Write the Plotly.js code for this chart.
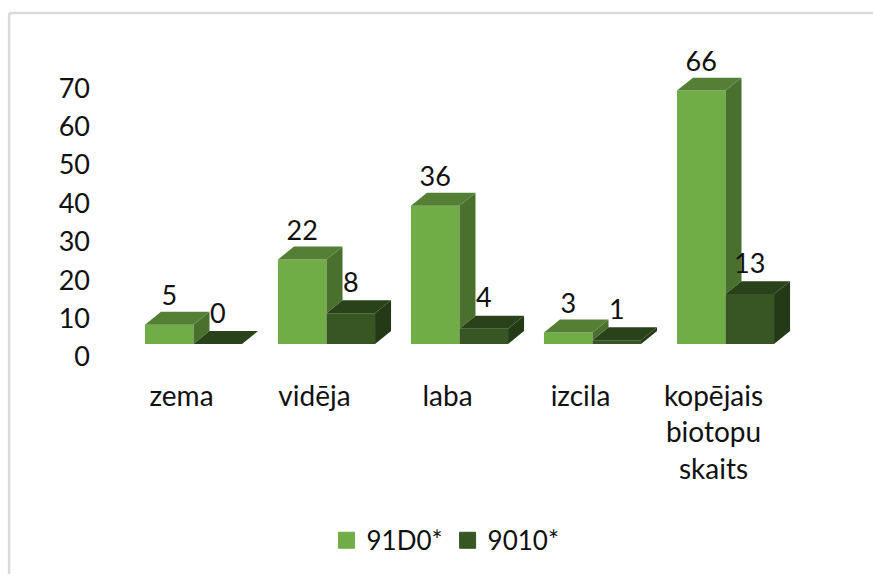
<!DOCTYPE html>
<html>
<head>
<meta charset="utf-8">
<script src="https://cdn.plot.ly/plotly-3.0.1.min.js"></script>
<style>html,body{margin:0;padding:0;background:#fff}#c{width:873px;height:574px}</style>
</head>
<body>
<div id="c"></div>
<script>
const categories = ['zema', 'vidēja', 'laba', 'izcila', 'kopējais<br>biotopu<br>skaits'];
const series1Name = '91D0*';
const series2Name = '9010*';
const series1Labels = [5, 22, 36, 3, 66];
const series2Labels = [0, 8, 4, 1, 13];
const positions = [0, 1, 2, 3, 4];
const yTicks = [0, 10, 20, 30, 40, 50, 60, 70];

const colours1 = {front: '#70AD47', top: '#547F34', side: '#4A702E'};
const colours2 = {front: '#375623', top: '#294219', side: '#243A16'};

const FONT = 'Lato, "Open Sans", sans-serif';
const FS_NUM = 27;
const FS_TXT = 28;
const FS_LEG = 26;
const barW = 0.365;
const dx = 16 / 133;
const dy = 13 / 3.86;

function poly(xs, ys, fill) {
  return {x: xs, y: ys, type: 'scatter', mode: 'lines', fill: 'toself', fillcolor: fill,
          line: {width: 0, color: fill}, hoverinfo: 'skip', showlegend: false, cliponaxis: false};
}

const traces = [];
traces.push({type: 'bar', x: positions, y: series1Labels, marker: {color: colours1.front}, showlegend: false, cliponaxis: false});
traces.push({type: 'bar', x: positions, y: series2Labels, marker: {color: colours2.front}, showlegend: false, cliponaxis: false});

positions.forEach((p, i) => {
  const v1 = series1Labels[i], v2 = series2Labels[i];
  const l1 = p - barW, m = p, r2 = p + barW;
  // side of the first column, only the part that rises above the second one
  traces.push(poly([m, m + dx, m + dx, m, m], [v2, v2 + dy, v1 + dy, v1, v2], colours1.side));
  // top of first column
  traces.push(poly([l1, l1 + dx, m + dx, m, l1], [v1, v1 + dy, v1 + dy, v1, v1], colours1.top));
  // top and side of second column
  traces.push(poly([m, m + dx, r2 + dx, r2, m], [v2, v2 + dy, v2 + dy, v2, v2], colours2.top));
  traces.push(poly([r2, r2 + dx, r2 + dx, r2, r2], [0, dy, v2 + dy, v2, 0], colours2.side));
});

// value labels
traces.push({
  type: 'scatter', mode: 'text',
  x: positions.map(p => p - barW / 2),
  y: series1Labels.map(v => v + dy),
  text: series1Labels.map(String), textposition: 'top center',
  textfont: {family: FONT, size: FS_NUM, color: '#111'}, showlegend: false, hoverinfo: 'skip', cliponaxis: false
});
traces.push({
  type: 'scatter', mode: 'text',
  x: positions.map(p => p + barW / 2),
  y: series2Labels.map(v => v + dy + 0.4),
  text: series2Labels.map(String), textposition: 'top center',
  textfont: {family: FONT, size: FS_NUM, color: '#111'}, showlegend: false, hoverinfo: 'skip', cliponaxis: false
});

// legend entries
traces.push({type: 'scatter', mode: 'markers', x: [null], y: [null], name: series1Name,
  marker: {symbol: 'square', size: 16, color: colours1.front, line: {width: 1, color: colours1.front}}});
traces.push({type: 'scatter', mode: 'markers', x: [null], y: [null], name: series2Name,
  marker: {symbol: 'square', size: 16, color: colours2.front, line: {width: 1, color: colours2.front}}});

const L = 126.5, R = 873 - 792.5, T = 55.5, B = 574 - 345;
const frameX = (8.5 - L) / (873 - L - R);
const frameY = 1 + (T - 12.3) / (574 - T - B);
const layout = {
  width: 873, height: 574,
  margin: {l: L, r: R, t: T, b: B, pad: 0},
  paper_bgcolor: '#fff', plot_bgcolor: 'rgba(0,0,0,0)',
  barmode: 'group', bargap: 0.27, bargroupgap: 0,
  font: {family: FONT, size: FS_TXT, color: '#111'},
  xaxis: {range: [-0.5, 4.5], tickmode: 'array', tickvals: positions, ticktext: categories,
          showgrid: false, zeroline: false, showline: false, ticks: '', ticklen: 0,
          ticklabelshift: -12, ticklabelstandoff: 33, tickfont: {family: FONT, size: FS_TXT, color: '#111'}},
  yaxis: {range: [0, 75], tickmode: 'array', tickvals: yTicks, ticktext: yTicks.map(String),
          showgrid: false, zeroline: false, showline: false, ticks: '',
          ticklabelshift: 13, ticklabelstandoff: 36, tickfont: {family: FONT, size: FS_NUM, color: '#111'}},
  legend: {orientation: 'h', x: 0.479, xanchor: 'center', y: -0.676, yanchor: 'middle',
           font: {family: FONT, size: FS_LEG, color: '#111'}, itemwidth: 30, bgcolor: 'rgba(0,0,0,0)'},
  shapes: [
    {type: 'line', xref: 'paper', yref: 'paper', x0: frameX, x1: 1.13, y0: frameY, y1: frameY, line: {color: '#D9D9D9', width: 2.5}},
    {type: 'line', xref: 'paper', yref: 'paper', x0: frameX, x1: frameX, y0: -0.8, y1: frameY, line: {color: '#D9D9D9', width: 2.5}}
  ]
};
Plotly.newPlot('c', traces, layout, {staticPlot: true, displayModeBar: false});
</script>
</body>
</html>
